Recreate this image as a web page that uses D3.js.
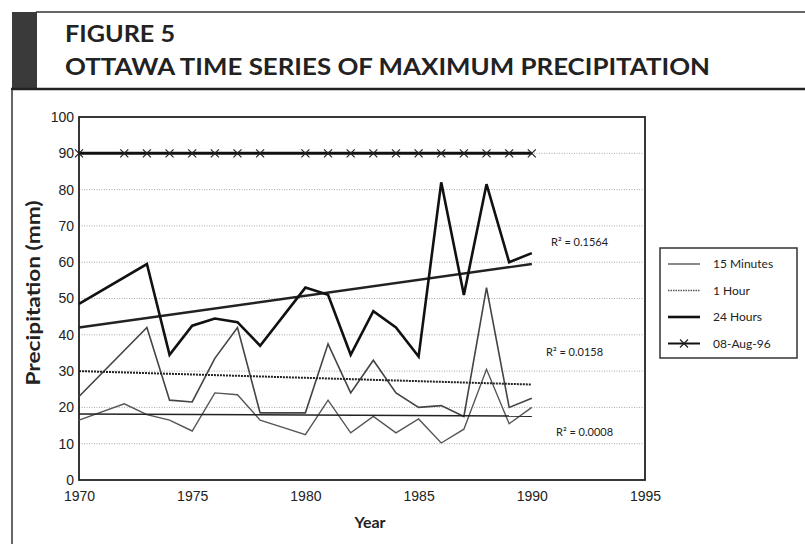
<!DOCTYPE html>
<html>
<head>
<meta charset="utf-8">
<script src="https://cdn.jsdelivr.net/npm/d3@7"></script>
<style>
  body { margin: 0; background: #fff; }
  svg { display: block; font-family: Lato, "Open Sans", sans-serif; }
</style>
</head>
<body>
<svg id="chart" width="805" height="544"></svg>
<script>
// years and values (null = no value plotted)
const years = d3.range(1970, 1991);
const min15 = [16.5, null, 21, 18, 16.5, 13.5, 24, 23.5, 16.5, 14.5, 12.5, 22, 13, 17.5, 13, 16.8, 10.2, 14, 30.5, 15.5, 20];
const hour1 = [23, null, null, 42, 22, 21.5, 33.5, 42, 18.5, null, 18.5, 37.5, 24, 33, 24, 20, 20.5, 17.5, 53, 20, 22.5];
const hour24 = [48.5, null, null, 59.5, 34.5, 42.5, 44.5, 43.5, 37, null, 53, 51, 34.5, 46.5, 42, 34, 82, 51, 81.5, 60, 62.5];
const aug96 = [90, null, 90, 90, 90, 90, 90, 90, 90, null, 90, 90, 90, 90, 90, 90, 90, 90, 90, 90, 90];

// trend lines: [value at 1970, value at 1990]
const trend15 = [18.2, 17.6];
const trend1h = [30, 26.3];
const trend24 = [42, 59.5];
const r2Labels = ["R\u00B2 = 0.1564", "R\u00B2 = 0.0158", "R\u00B2 = 0.0008"];

const yTicks = d3.range(0, 101, 10);
const xTicks = [1970, 1975, 1980, 1985, 1990, 1995];
const legendNames = ["15 Minutes", "1 Hour", "24 Hours", "08-Aug-96"];

const svg = d3.select("#chart");

// header frame
svg.append("rect").attr("x", 12).attr("y", 12).attr("width", 25).attr("height", 77).attr("fill", "#3a3a3a");
svg.append("line").attr("x1", 36).attr("x2", 805).attr("y1", 12).attr("y2", 12).attr("stroke", "#333").attr("stroke-width", 1.5);
svg.append("line").attr("x1", 11).attr("x2", 805).attr("y1", 89).attr("y2", 89).attr("stroke", "#222").attr("stroke-width", 2.5);
svg.append("line").attr("x1", 12).attr("x2", 12).attr("y1", 89).attr("y2", 544).attr("stroke", "#333").attr("stroke-width", 1.5);

svg.append("text").attr("x", 65).attr("y", 42).text("FIGURE 5")
  .attr("font-size", 22).attr("font-weight", 700).attr("fill", "#222")
  .attr("textLength", 110).attr("lengthAdjust", "spacingAndGlyphs");
svg.append("text").attr("x", 65).attr("y", 75).text("OTTAWA TIME SERIES OF MAXIMUM PRECIPITATION")
  .attr("font-size", 22).attr("font-weight", 700).attr("fill", "#222")
  .attr("textLength", 645).attr("lengthAdjust", "spacingAndGlyphs");

const x = d3.scaleLinear().domain([1970, 1995]).range([79, 645]);
const y = d3.scaleLinear().domain([0, 100]).range([480, 117]);

// gridlines
svg.append("g").selectAll("line").data(yTicks.slice(1, -1)).enter().append("line")
  .attr("x1", x(1970)).attr("x2", x(1995))
  .attr("y1", d => y(d)).attr("y2", d => y(d))
  .attr("stroke", "#aaa").attr("stroke-width", 1).attr("stroke-dasharray", "1,1.5");

// axes
const yAxis = svg.append("g").attr("transform", `translate(${x(1970)},0)`)
  .call(d3.axisLeft(y).tickValues(yTicks).tickSize(0).tickPadding(5));
yAxis.select(".domain").remove();
yAxis.selectAll("text").attr("font-size", 14).attr("fill", "#222");

const xAxis = svg.append("g").attr("transform", `translate(0,${y(0)})`)
  .call(d3.axisBottom(x).tickValues(xTicks).tickFormat(d3.format("d")).tickSize(0).tickPadding(11));
xAxis.select(".domain").remove();
xAxis.selectAll("text").attr("font-size", 14).attr("fill", "#222");

// plot frame
svg.append("rect").attr("x", x(1970)).attr("y", y(100))
  .attr("width", x(1995) - x(1970)).attr("height", y(0) - y(100))
  .attr("fill", "none").attr("stroke", "#222").attr("stroke-width", 1.8);

svg.append("text").attr("transform", "translate(40,293) rotate(-90)")
  .attr("text-anchor", "middle").text("Precipitation (mm)")
  .attr("font-size", 18).attr("font-weight", 700).attr("fill", "#222")
  .attr("textLength", 185).attr("lengthAdjust", "spacingAndGlyphs");
svg.append("text").attr("x", 370).attr("y", 528).attr("text-anchor", "middle").text("Year")
  .attr("font-size", 16).attr("font-weight", 700).attr("fill", "#222");

function pts(vals) {
  return years.map((yr, i) => [yr, vals[i]]).filter(d => d[1] != null);
}
const line = d3.line().x(d => x(d[0])).y(d => y(d[1]));

const styles = {
  min15: { stroke: "#555", width: 1.4, dash: null },
  hour1: { stroke: "#444", width: 1.6, dash: null },
  hour24: { stroke: "#111", width: 2.6, dash: null },
  aug96: { stroke: "#111", width: 3, dash: null }
};

function drawSeries(vals, st) {
  svg.append("path").attr("d", line(pts(vals)))
    .attr("fill", "none").attr("stroke", st.stroke).attr("stroke-width", st.width)
    .attr("stroke-linejoin", "miter");
}
drawSeries(min15, styles.min15);
drawSeries(hour1, styles.hour1);

// trend lines
function drawTrend(t, w, dash) {
  svg.append("line").attr("x1", x(1970)).attr("x2", x(1990))
    .attr("y1", y(t[0])).attr("y2", y(t[1]))
    .attr("stroke", "#222").attr("stroke-width", w).attr("stroke-dasharray", dash);
}
drawTrend(trend15, 1.6, null);
drawTrend(trend1h, 2, "2,1");
drawTrend(trend24, 2.4, null);

drawSeries(hour24, styles.hour24);
drawSeries(aug96, styles.aug96);

// star markers on 08-Aug-96
function marker(g, cx, cy) {
  const s = 4;
  g.append("path").attr("d", `M${cx - s},${cy - s}L${cx + s},${cy + s}M${cx - s},${cy + s}L${cx + s},${cy - s}`)
    .attr("stroke", "#222").attr("stroke-width", 1.2);
}
const mg = svg.append("g");
pts(aug96).forEach(d => marker(mg, x(d[0]), y(d[1])));

// R² labels
const r2Pos = [[551, 246], [546, 356], [556, 436]];
r2Labels.forEach((t, i) => {
  svg.append("text").attr("x", r2Pos[i][0]).attr("y", r2Pos[i][1]).text(t)
    .attr("font-size", 11).attr("fill", "#222");
});

// legend
const lg = svg.append("g").attr("transform", "translate(660,248)");
lg.append("rect").attr("width", 137).attr("height", 110).attr("fill", "#fff")
  .attr("stroke", "#333").attr("stroke-width", 1.5);
const legStyles = [styles.min15, { stroke: "#555", width: 1.6, dash: "1.5,1" }, styles.hour24, styles.aug96];
legendNames.forEach((name, i) => {
  const ly = 16 + i * 26.5;
  const st = legStyles[i];
  lg.append("line").attr("x1", 8).attr("x2", 40).attr("y1", ly).attr("y2", ly)
    .attr("stroke", st.stroke).attr("stroke-width", i === 3 ? 2 : st.width)
    .attr("stroke-dasharray", st.dash);
  if (i === 3) marker(lg, 24, ly);
  lg.append("text").attr("x", 53).attr("y", ly + 4).text(name)
    .attr("font-size", 12).attr("fill", "#222");
});
</script>
</body>
</html>
